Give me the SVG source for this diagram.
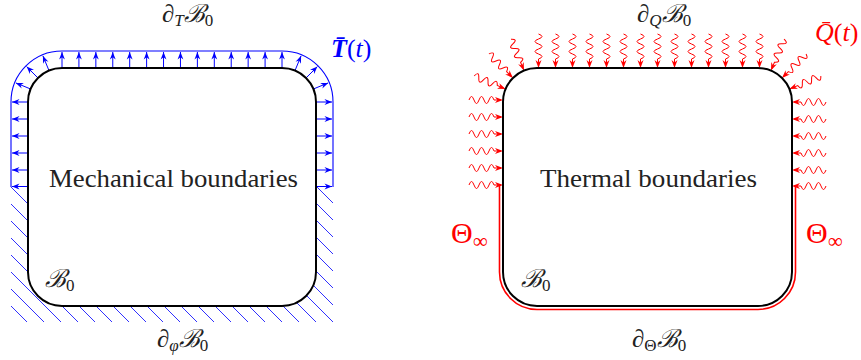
<svg xmlns="http://www.w3.org/2000/svg" xmlns:xlink="http://www.w3.org/1999/xlink" width="861" height="360" viewBox="0 0 861 360">
<style>
  .box { fill: #ffffff; stroke: #000000; stroke-width: 2; }
  .lbl { font-family: "Liberation Serif", "DejaVu Serif", serif; fill: #222222; }
  .it { font-style: italic; }
  .sub { font-size: 17px; }
  .barr { stroke: #0000ff; stroke-width: 1; fill: none; marker-end: url(#bhead); }
  .bline { stroke: #0000ff; stroke-width: 1.1; fill: none; }
</style>
<defs>
  <marker id="bhead" viewBox="-8 -4 9 8" refX="0" refY="0" markerWidth="9" markerHeight="8" markerUnits="userSpaceOnUse" orient="auto">
    <path d="M0,0 L-7.5,-2.9 L-5.2,0 L-7.5,2.9 Z" fill="#0000ff"/>
  </marker>
  <pattern id="hatch" patternUnits="userSpaceOnUse" width="17" height="17" patternTransform="translate(11,0)">
    <path d="M-2,-2 L19,19 M-19,-2 L2,19 M15,-2 L36,19" stroke="#3030ff" stroke-width="1"/>
  </pattern>
  <g id="wv">
    <path d="M-34,0 q2.5,-7 5,0 t5,0 t5,0 t5,0 t5,0 L-2,0" fill="none" stroke="#ff0000" stroke-width="1"/>
    <path d="M0,0 L-8,-3 L-5.6,0 L-8,3 Z" fill="#ff0000"/>
  </g>
</defs>

<!-- Left: mechanical boundaries -->
<g id="mech-hatch">
  <path d="M11,187 H333 V322 H11 Z M62,68 H282 A34,34 0 0 1 316,102 V272 A34,34 0 0 1 282,306 H62 A34,34 0 0 1 28,272 V102 A34,34 0 0 1 62,68 Z" fill="url(#hatch)" fill-rule="evenodd"/>
</g>
<g id="mech-traction">
  <path class="bline" d="M11,187 V102 A51,51 0 0 1 62,51 H282 A51,51 0 0 1 333,102 V187"/>
  <line class="barr" x1="62" y1="68" x2="62" y2="52"/>
  <line class="barr" x1="78.92" y1="68" x2="78.92" y2="52"/>
  <line class="barr" x1="95.85" y1="68" x2="95.85" y2="52"/>
  <line class="barr" x1="112.77" y1="68" x2="112.77" y2="52"/>
  <line class="barr" x1="129.69" y1="68" x2="129.69" y2="52"/>
  <line class="barr" x1="146.62" y1="68" x2="146.62" y2="52"/>
  <line class="barr" x1="163.54" y1="68" x2="163.54" y2="52"/>
  <line class="barr" x1="180.46" y1="68" x2="180.46" y2="52"/>
  <line class="barr" x1="197.38" y1="68" x2="197.38" y2="52"/>
  <line class="barr" x1="214.31" y1="68" x2="214.31" y2="52"/>
  <line class="barr" x1="231.23" y1="68" x2="231.23" y2="52"/>
  <line class="barr" x1="248.15" y1="68" x2="248.15" y2="52"/>
  <line class="barr" x1="265.08" y1="68" x2="265.08" y2="52"/>
  <line class="barr" x1="282" y1="68" x2="282" y2="52"/>
  <line class="barr" x1="30.59" y1="88.99" x2="15.8" y2="82.9"/>
  <line class="barr" x1="37.96" y1="77.96" x2="26.6" y2="66.6"/>
  <line class="barr" x1="48.99" y1="70.59" x2="42.9" y2="55.8"/>
  <line class="barr" x1="313.41" y1="88.99" x2="328.2" y2="82.9"/>
  <line class="barr" x1="306.04" y1="77.96" x2="317.4" y2="66.6"/>
  <line class="barr" x1="295.01" y1="70.59" x2="301.1" y2="55.8"/>
  <line class="barr" x1="28" y1="102" x2="12" y2="102"/>
  <line class="barr" x1="28" y1="119" x2="12" y2="119"/>
  <line class="barr" x1="28" y1="136" x2="12" y2="136"/>
  <line class="barr" x1="28" y1="153" x2="12" y2="153"/>
  <line class="barr" x1="28" y1="170" x2="12" y2="170"/>
  <line class="barr" x1="28" y1="186.5" x2="12" y2="186.5"/>
  <line class="barr" x1="316" y1="102" x2="332" y2="102"/>
  <line class="barr" x1="316" y1="119" x2="332" y2="119"/>
  <line class="barr" x1="316" y1="136" x2="332" y2="136"/>
  <line class="barr" x1="316" y1="153" x2="332" y2="153"/>
  <line class="barr" x1="316" y1="170" x2="332" y2="170"/>
  <line class="barr" x1="316" y1="186.5" x2="332" y2="186.5"/>
</g>
<g id="mech-body">
  <rect class="box" x="28" y="68" width="288" height="238" rx="34" ry="34"/>
  <text class="lbl" x="49" y="187" font-size="25" textLength="249" lengthAdjust="spacingAndGlyphs">Mechanical boundaries</text>
  <text class="lbl" x="45" y="287" font-size="25"><tspan class="it">ℬ</tspan><tspan class="sub" dy="4">0</tspan></text>
</g>
<g id="mech-labels">
  <text class="lbl" x="162" y="22" font-size="25"><tspan class="it">∂</tspan><tspan class="sub it" dy="4">T</tspan><tspan class="it" dy="-4">ℬ</tspan><tspan class="sub" dy="4">0</tspan></text>
  <text class="lbl" x="157" y="347" font-size="25"><tspan class="it">∂</tspan><tspan class="sub it" dy="4">φ</tspan><tspan class="it" dy="-4">ℬ</tspan><tspan class="sub" dy="4">0</tspan></text>
  <text class="lbl" x="331" y="57" font-size="26" style="fill:#0000ff"><tspan font-weight="bold" font-style="italic">T̄</tspan>(<tspan font-style="italic">t</tspan>)</text>
</g>

<!-- Right: thermal boundaries -->
<g id="therm-flux">
  <use href="#wv" transform="translate(538.5,68) rotate(90)"/>
  <use href="#wv" transform="translate(555.5,68) rotate(90)"/>
  <use href="#wv" transform="translate(572.5,68) rotate(90)"/>
  <use href="#wv" transform="translate(589.5,68) rotate(90)"/>
  <use href="#wv" transform="translate(606.5,68) rotate(90)"/>
  <use href="#wv" transform="translate(623.5,68) rotate(90)"/>
  <use href="#wv" transform="translate(640.5,68) rotate(90)"/>
  <use href="#wv" transform="translate(657.5,68) rotate(90)"/>
  <use href="#wv" transform="translate(674.5,68) rotate(90)"/>
  <use href="#wv" transform="translate(691.5,68) rotate(90)"/>
  <use href="#wv" transform="translate(708.5,68) rotate(90)"/>
  <use href="#wv" transform="translate(725.5,68) rotate(90)"/>
  <use href="#wv" transform="translate(742.5,68) rotate(90)"/>
  <use href="#wv" transform="translate(759.5,68) rotate(90)"/>
  <use href="#wv" transform="translate(505.59,88.99) rotate(22.5)"/>
  <use href="#wv" transform="translate(512.96,77.96) rotate(45)"/>
  <use href="#wv" transform="translate(523.99,70.59) rotate(67.5)"/>
  <use href="#wv" transform="translate(789.41,88.99) rotate(157.5)"/>
  <use href="#wv" transform="translate(782.04,77.96) rotate(135)"/>
  <use href="#wv" transform="translate(771.01,70.59) rotate(112.5)"/>
  <use href="#wv" transform="translate(503,100)"/>
  <use href="#wv" transform="translate(503,117)"/>
  <use href="#wv" transform="translate(503,134)"/>
  <use href="#wv" transform="translate(503,151)"/>
  <use href="#wv" transform="translate(503,168)"/>
  <use href="#wv" transform="translate(503,185)"/>
  <use href="#wv" transform="translate(792,102) rotate(180)"/>
  <use href="#wv" transform="translate(792,119) rotate(180)"/>
  <use href="#wv" transform="translate(792,136) rotate(180)"/>
  <use href="#wv" transform="translate(792,153) rotate(180)"/>
  <use href="#wv" transform="translate(792,170) rotate(180)"/>
  <use href="#wv" transform="translate(792,186) rotate(180)"/>
</g>
<g id="therm-dirichlet">
  <path d="M499.5,186 V272 A37.5,37.5 0 0 0 537,309.5 H758 A37.5,37.5 0 0 0 795.5,272 V186" fill="none" stroke="#ff0000" stroke-width="1.6"/>
</g>
<g id="therm-body">
  <rect class="box" x="503" y="68" width="289" height="238" rx="34" ry="34"/>
  <text class="lbl" x="540" y="187" font-size="25" textLength="217" lengthAdjust="spacingAndGlyphs">Thermal boundaries</text>
  <text class="lbl" x="521" y="287" font-size="25"><tspan class="it">ℬ</tspan><tspan class="sub" dy="4">0</tspan></text>
</g>
<g id="therm-labels">
  <text class="lbl" x="637" y="22" font-size="25"><tspan class="it">∂</tspan><tspan class="sub it" dy="4">Q</tspan><tspan class="it" dy="-4">ℬ</tspan><tspan class="sub" dy="4">0</tspan></text>
  <text class="lbl" x="632" y="347" font-size="25"><tspan class="it">∂</tspan><tspan class="sub" dy="4">Θ</tspan><tspan class="it" dy="-4">ℬ</tspan><tspan class="sub" dy="4">0</tspan></text>
  <text class="lbl" x="815" y="41" font-size="26" style="fill:#ff0000"><tspan font-style="italic">Q̄</tspan>(<tspan font-style="italic">t</tspan>)</text>
  <text class="lbl" x="451" y="243" font-size="30" style="fill:#ff0000">Θ<tspan font-size="21" dy="5">∞</tspan></text>
  <text class="lbl" x="806" y="243" font-size="30" style="fill:#ff0000">Θ<tspan font-size="21" dy="5">∞</tspan></text>
</g>
</svg>
